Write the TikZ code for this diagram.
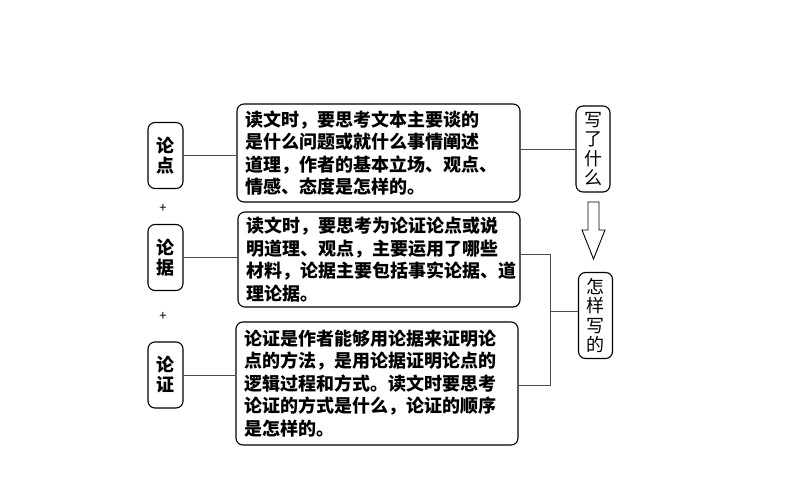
\documentclass[tikz,border=0pt]{standalone}
\usepackage{fontspec}
\setmainfont{Noto Sans CJK SC}
\usetikzlibrary{calc}
\tikzset{
  box/.style={draw=black, line width=1.1pt, rounded corners=7pt, inner sep=0pt, fill=white},
  bigbox/.style={box, align=left, font=\bfseries\fontsize{18}{22.5}\selectfont, text width=266pt},
  smallbox/.style={box, align=center, minimum width=35pt, minimum height=66pt, font=\bfseries\fontsize{18}{20}\selectfont},
  rightbox/.style={box, align=center, minimum width=34pt, minimum height=86pt, font=\fontsize{18}{19.5}\selectfont},
  conn/.style={draw=black!70, line width=0.9pt},
  plus/.style={font=\fontsize{13}{13}\selectfont}
}
\begin{document}
\begin{tikzpicture}[x=1pt,y=-1pt]
\useasboundingbox (0,0) rectangle (794,495);
% middle boxes
\node[bigbox, minimum width=283pt, minimum height=98pt] (b1) at (378.5,153) {读文时，要思考文本主要谈的\\是什么问题或就什么事情阐述\\道理，作者的基本立场、观点、\\情感、态度是怎样的。};
\node[bigbox, minimum width=282pt, minimum height=95pt] (b2) at (379,259.5) {读文时，要思考为论证论点或说\\明道理、观点，主要运用了哪些\\材料，论据主要包括事实论据、道\\理论据。};
\node[bigbox, minimum width=282pt, minimum height=123pt] (b3) at (377,383.5) {论证是作者能够用论据来证明论\\点的方法，是用论据证明论点的\\逻辑过程和方式。读文时要思考\\论证的方式是什么，论证的顺序\\是怎样的。};
% left boxes
\node[smallbox] (l1) at (165.5,155.5) {论\\点};
\node[smallbox] (l2) at (165.5,257.5) {论\\据};
\node[smallbox] (l3) at (165.5,375) {论\\证};
\node[plus] (p1) at (163,208) {+};
\node[plus] (p2) at (163,316) {+};
% right boxes
\node[rightbox] (r1) at (593,149) {写\\了\\什\\么};
\node[rightbox] (r2) at (595.5,315.5) {怎\\样\\写\\的};
% hollow arrow
\coordinate (at) at (593.5,202);
\draw[line width=0.9pt, fill=white] ($(at)+(-5.5,0)$) -- ($(at)+(5.5,0)$) -- ($(at)+(5.5,28)$) -- ($(at)+(11.5,28)$) -- ($(at)+(0,57)$) -- ($(at)+(-11.5,28)$) -- ($(at)+(-5.5,28)$) -- cycle;
% connectors
\draw[conn] (l1.east) -- (l1.east -| b1.west);
\draw[conn] (l2.east) -- (l2.east -| b2.west);
\draw[conn] (l3.east) -- (l3.east -| b3.west);
\draw[conn] (b1.east |- r1.west) -- (r1.west);
\coordinate (j) at (550,311);
\draw[conn] (b2.east |- 0,254) -| (j);
\draw[conn] (b3.east |- 0,385) -| (j);
\draw[conn] (j) -- (j -| r2.west);
\end{tikzpicture}
\end{document}
